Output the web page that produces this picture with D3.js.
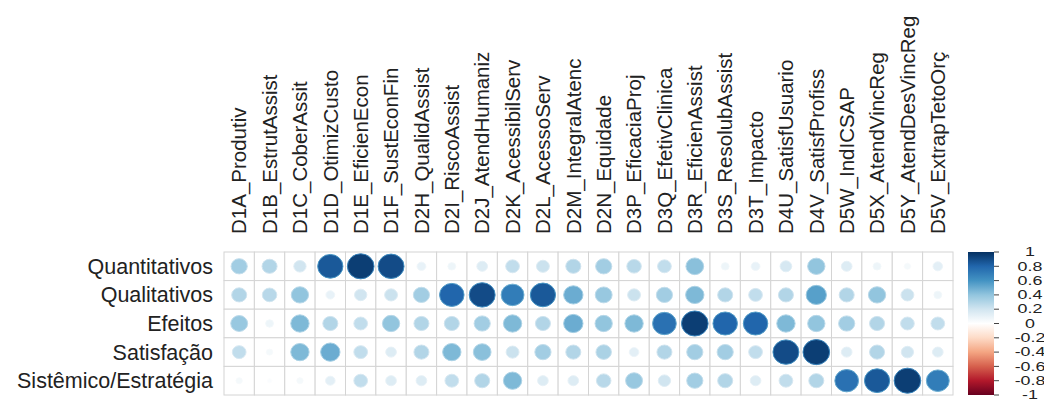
<!DOCTYPE html>
<html>
<head>
<meta charset="utf-8">
<script src="https://cdnjs.cloudflare.com/ajax/libs/d3/7.8.5/d3.min.js"></script>
<style>
	body { margin: 0; background: #fff; }
	text { font-family: "Liberation Sans", Arial, sans-serif; }
</style>
</head>
<body>
<svg id="chart" width="1044" height="406"></svg>
<script>

var rows = ["Quantitativos", "Qualitativos", "Efeitos", "Satisfação", "Sistêmico/Estratégia"];

var cols = ["D1A_Produtiv", "D1B_EstrutAssist", "D1C_CoberAssit", "D1D_OtimizCusto", "D1E_EficienEcon",
	"D1F_SustEconFin", "D2H_QualidAssist", "D2I_RiscoAssist", "D2J_AtendHumaniz", "D2K_AcessibilServ",
	"D2L_AcessoServ", "D2M_IntegralAtenc", "D2N_Equidade", "D3P_EficaciaProj", "D3Q_EfetivClinica",
	"D3R_EficienAssist", "D3S_ResolubAssist", "D3T_Impacto", "D4U_SatisfUsuario", "D4V_SatisfProfiss",
	"D5W_IndICSAP", "D5X_AtendVincReg", "D5Y_AtendDesVincReg", "D5V_ExtrapTetoOrç"];

// correlations, one array per row
var quantitativos = [0.35, 0.30, 0.20, 0.85, 0.95, 0.90, 0.10, 0.08, 0.15, 0.25, 0.22, 0.30,
	0.35, 0.28, 0.25, 0.42, 0.08, 0.10, 0.18, 0.40, 0.15, 0.08, 0.05, 0.12];
var qualitativos = [0.30, 0.28, 0.40, 0.10, 0.20, 0.22, 0.35, 0.80, 0.90, 0.70, 0.85, 0.50,
	0.38, 0.22, 0.35, 0.45, 0.30, 0.25, 0.30, 0.55, 0.30, 0.40, 0.22, 0.08];
var efeitos = [0.38, 0.08, 0.45, 0.30, 0.25, 0.40, 0.30, 0.30, 0.35, 0.45, 0.30, 0.50,
	0.40, 0.45, 0.75, 0.95, 0.80, 0.80, 0.45, 0.40, 0.35, 0.30, 0.25, 0.25];
var satisfacao = [0.25, 0.05, 0.45, 0.50, 0.25, 0.15, 0.30, 0.45, 0.42, 0.22, 0.35, 0.30,
	0.32, 0.12, 0.30, 0.35, 0.35, 0.25, 0.90, 0.95, 0.15, 0.30, 0.20, 0.15];
var sistemico = [0.05, 0.02, 0.05, 0.12, 0.25, 0.15, 0.15, 0.25, 0.30, 0.45, 0.15, 0.15,
	0.28, 0.38, 0.20, 0.35, 0.30, 0.15, 0.25, 0.30, 0.75, 0.85, 0.95, 0.70];

var legendTicks = [1, 0.8, 0.6, 0.4, 0.2, 0, -0.2, -0.4, -0.6, -0.8, -1];

var palette = ["#67001F", "#B2182B", "#D6604D", "#F4A582", "#FDDBC7", "#FFFFFF",
	"#D1E5F0", "#92C5DE", "#4393C3", "#2166AC", "#053061"];

var drawChart = function() {

	var margin = { top: 252, left: 224 };
	var width = 729;
	var height = 143;

	var values = [quantitativos, qualitativos, efeitos, satisfacao, sistemico];
	var cells = [];
	values.forEach(function(arr, i) {
		arr.forEach(function(v, j) {
			cells.push({ row: rows[i], col: cols[j], value: v });
		});
	});

	var xScale = d3.scaleBand().domain(cols).range([0, width]);
	var yScale = d3.scaleBand().domain(rows).range([0, height]);
	var color = d3.scaleLinear()
		.domain(d3.range(11).map(function(i) { return -1 + i * 0.2; }))
		.range(palette);

	var svg = d3.select('#chart');
	var g = svg.append("g")
		.attr("transform", "translate(" + margin.left + "," + margin.top + ")");

	// grid
	g.selectAll(".cell")
		.data(cells)
		.enter()
		.append("rect")
		.attr("x", function(d) { return xScale(d.col); })
		.attr("y", function(d) { return yScale(d.row); })
		.attr("width", xScale.bandwidth())
		.attr("height", yScale.bandwidth())
		.attr("fill", "#fff")
		.attr("stroke", "#d4d4d4")
		.attr("stroke-width", 1);

	// circles, area ~ |r|
	g.selectAll(".dot")
		.data(cells)
		.enter()
		.append("ellipse")
		.attr("cx", function(d) { return xScale(d.col) + xScale.bandwidth() / 2; })
		.attr("cy", function(d) { return yScale(d.row) + yScale.bandwidth() / 2; })
		.attr("rx", function(d) { return 0.45 * Math.sqrt(Math.abs(d.value)) * xScale.bandwidth(); })
		.attr("ry", function(d) { return 0.45 * Math.sqrt(Math.abs(d.value)) * yScale.bandwidth(); })
		.attr("fill", function(d) { return color(d.value); })
		.attr("stroke", function(d) { return color(d.value * 0.7); })
		.attr("stroke-width", 1);

	// row labels
	g.selectAll(".rowlab")
		.data(rows)
		.enter()
		.append("text")
		.attr("x", -11)
		.attr("y", function(d) { return yScale(d) + yScale.bandwidth() / 2; })
		.attr("dy", "0.35em")
		.attr("text-anchor", "end")
		.attr("font-size", "21.5px")
		.attr("fill", "#222")
		.text(function(d) { return d; });

	// column labels
	g.selectAll(".collab")
		.data(cols)
		.enter()
		.append("text")
		.attr("transform", function(d) {
			return "translate(" + (xScale(d) + xScale.bandwidth() / 2) + ",-18) rotate(-90)";
		})
		.attr("dy", "0.35em")
		.attr("text-anchor", "start")
		.attr("font-size", "20.5px")
		.attr("fill", "#222")
		.text(function(d) { return d; });

	// colour legend
	var lx = 968, lw = 26;
	var lScale = d3.scaleLinear().domain([1, -1]).range([margin.top, margin.top + height]);

	var defs = svg.append("defs");
	var grad = defs.append("linearGradient")
		.attr("id", "rdbu")
		.attr("x1", 0).attr("y1", 1).attr("x2", 0).attr("y2", 0);
	grad.selectAll("stop")
		.data(palette)
		.enter()
		.append("stop")
		.attr("offset", function(d, i) { return (i / 10 * 100) + "%"; })
		.attr("stop-color", function(d) { return d; });

	svg.append("rect")
		.attr("x", lx)
		.attr("y", lScale(1))
		.attr("width", lw)
		.attr("height", lScale(-1) - lScale(1))
		.attr("fill", "url(#rdbu)");

	svg.selectAll(".ltick")
		.data(legendTicks)
		.enter()
		.append("line")
		.attr("x1", lx + lw)
		.attr("x2", lx + lw + 5)
		.attr("y1", function(d) { return lScale(d); })
		.attr("y2", function(d) { return lScale(d); })
		.attr("stroke", "#444");

	// labels squeezed vertically so they sit in the 14px steps
	svg.selectAll(".llab")
		.data(legendTicks)
		.enter()
		.append("text")
		.attr("transform", function(d) { return "translate(1030," + lScale(d) + ") scale(1.05,0.72)"; })
		.attr("dy", "0.35em")
		.attr("text-anchor", "middle")
		.attr("font-size", "17px")
		.attr("fill", "#222")
		.text(function(d) { return d; });
}

drawChart();
</script>
</body>
</html>
